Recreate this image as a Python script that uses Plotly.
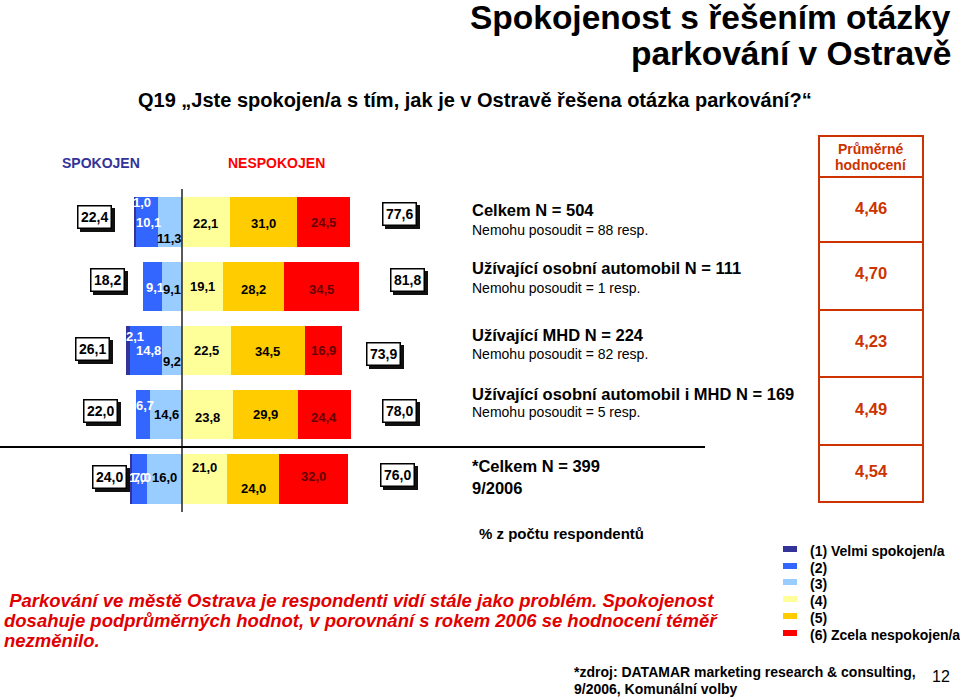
import plotly.graph_objects as go
import numpy as np

# ---------------- data ----------------
groups = ["Celkem N = 504", "Užívající osobní automobil N = 111", "Užívající MHD N = 224",
          "Užívající osobní automobil i MHD N = 169", "*Celkem N = 399"]
subtexts = ["Nemohu posoudit = 88 resp.", "Nemohu posoudit = 1 resp.", "Nemohu posoudit = 82 resp.",
            "Nemohu posoudit = 5 resp.", "9/2006"]
cat_names = ["(1) Velmi spokojen/a", "(2)", "(3)", "(4)", "(5)", "(6) Zcela nespokojen/a"]
v1 = [1.0, 0.0, 2.1, 0.0, 1.0]
v2 = [10.1, 9.1, 14.8, 6.7, 7.0]
v3 = [11.3, 9.1, 9.2, 14.6, 16.0]
v4 = [22.1, 19.1, 22.5, 23.8, 21.0]
v5 = [31.0, 28.2, 34.5, 29.9, 24.0]
v6 = [24.5, 34.5, 16.9, 24.4, 32.0]
spokojen_tot = [22.4, 18.2, 26.1, 22.0, 24.0]
nespokojen_tot = [77.6, 81.8, 73.9, 78.0, 76.0]
mean_scores = ["4,46", "4,70", "4,23", "4,49", "4,54"]
title_lines = ["Spokojenost s řešením otázky", "parkování v Ostravě"]
question = "Q19 „Jste spokojen/a s tím, jak je v Ostravě řešena otázka parkování?“"
conclusion = [" Parkování ve městě Ostrava je respondenti vidí stále jako problém. Spokojenost",
              "dosahuje podprůměrných hodnot, v porovnání s rokem 2006 se hodnocení téměř",
              "nezměnilo."]
source = ["*zdroj: DATAMAR marketing research & consulting,", "9/2006, Komunální volby"]

# ---------------- style ----------------
W, H = 960, 697
ZERO_PX = 182.0
PX_PER_PCT = 2.16
ROW0_PX = 222.0
ROW_STEP = 64.25
colors = ["#333399", "#3366FF", "#99CCFF", "#FFFF99", "#FFCC00", "#FF0000"]
label_colors = ["white", "white", "black", "black", "black", "#660000"]
SANS = "Liberation Sans, Arial, sans-serif"
BROWN = "#CC3300"


def X(px):
    return px / W


def Y(py):
    return 1 - py / H


def ptext(x, y, text, size, color="black", xanchor="center", bold=True, italic=False):
    t = text
    if italic:
        t = f"<i>{t}</i>"
    if bold:
        t = f"<b>{t}</b>"
    return dict(x=X(x), y=Y(y), xref="paper", yref="paper", xanchor=xanchor, yanchor="middle",
                text=t, showarrow=False, font=dict(family=SANS, size=size, color=color))


# label vertical offsets (px, positive = down) per row, per category
lab_dy = [[-20, 0, 16, 1, 1, 0],
          [0, 1, 3, 0, 3, 3],
          [-14, 0, 11, 0, 1, 0],
          [0, -9, 0, 3, 0, 3],
          [-2, -2, -2, -12, 9, -3]]
lab_dx = [7, 2, 0, 0, 0, 0]
left_box_dx = [-39, -35, -33, -35, -21]
right_box_dx = [50, 49, 42, 49, 49]
box_dy = [-5, -6, -2, -4, -2]
right_box_dy = [-8, -6, 3, -4, -4]

rows = list(range(len(groups)))
vals = np.array([v1, v2, v3, v4, v5, v6])

fig = go.Figure()
for k in [2, 1, 0]:
    fig.add_trace(go.Bar(y=rows, x=-vals[k], orientation="h",
                         marker=dict(color=colors[k], line=dict(width=0)),
                         width=0.763, showlegend=False, hoverinfo="skip"))
for k in [3, 4, 5]:
    fig.add_trace(go.Bar(y=rows, x=vals[k], orientation="h",
                         marker=dict(color=colors[k], line=dict(width=0)),
                         width=0.763, showlegend=False, hoverinfo="skip"))

annotations = []
shapes = []

for r in rows:
    neg_edges = [-(vals[0][r] + vals[1][r] + vals[2][r])]
    for k in range(3):
        neg_edges.append(neg_edges[-1] + vals[k][r])
    pos_edges = [0.0]
    for k in range(3, 6):
        pos_edges.append(pos_edges[-1] + vals[k][r])
    centers = [(neg_edges[k] + neg_edges[k + 1]) / 2 for k in range(3)] + \
              [(pos_edges[k] + pos_edges[k + 1]) / 2 for k in range(3)]
    for k in range(6):
        v = vals[k][r]
        if v <= 0:
            continue
        annotations.append(dict(x=centers[k], y=r, xref="x", yref="y", xanchor="center", yanchor="middle",
                                text=f"<b>{v:.1f}</b>".replace(".", ","),
                                showarrow=False, xshift=lab_dx[k], yshift=-lab_dy[r][k],
                                font=dict(family=SANS, size=13, color=label_colors[k])))
    left_end = neg_edges[0]
    right_end = pos_edges[-1]
    for (xv, dx, dy, txt) in [(left_end, left_box_dx[r], box_dy[r], spokojen_tot[r]),
                              (right_end, right_box_dx[r], right_box_dy[r], nespokojen_tot[r])]:
        t = f"<b>{txt:.1f}</b>".replace(".", ",")
        annotations.append(dict(x=xv, y=r, xref="x", yref="y", xanchor="center", yanchor="middle",
                                text=t, showarrow=False,
                                xshift=dx + 3, yshift=-dy - 3, bgcolor="#111111", bordercolor="#111111",
                                borderwidth=1.5, borderpad=2.5, font=dict(family=SANS, size=14, color="#111111")))
        annotations.append(dict(x=xv, y=r, xref="x", yref="y", xanchor="center", yanchor="middle",
                                text=t, showarrow=False,
                                xshift=dx, yshift=-dy, bgcolor="white", bordercolor="black",
                                borderwidth=1.5, borderpad=2.5, font=dict(family=SANS, size=14, color="black")))

# zero line
shapes.append(dict(type="line", xref="x", yref="paper", x0=0, x1=0, y0=Y(189), y1=Y(512),
                   line=dict(color="#222222", width=1.5)))
# separator between current results and 2006
shapes.append(dict(type="line", xref="paper", yref="y", x0=0, x1=X(705), y0=3.5, y1=3.5,
                   line=dict(color="black", width=2)))

# group texts
text_y = [(210, 230), (268, 288), (335, 354), (394, 412), (466, 488)]
for r in rows:
    annotations.append(ptext(470, text_y[r][0], groups[r], 16.5, xanchor="left"))
    if r == 4:
        annotations.append(ptext(470, text_y[r][1], subtexts[r], 16.5, xanchor="left"))
    else:
        annotations.append(ptext(470, text_y[r][1], subtexts[r], 14, xanchor="left", bold=False))

# mean score table
cell_edges = [136, 177, 242, 310, 377, 445, 502]
for i in range(len(cell_edges) - 1):
    shapes.append(dict(type="rect", xref="paper", yref="paper", x0=X(819), x1=X(923),
                       y0=Y(cell_edges[i]), y1=Y(cell_edges[i + 1]), line=dict(color=BROWN, width=2)))
annotations.append(ptext(871, 149, "Průměrné", 14, BROWN))
annotations.append(ptext(871, 165, "hodnocení", 14, BROWN))
mean_y = [208, 273, 341, 409, 471]
for r in rows:
    annotations.append(ptext(871, mean_y[r], mean_scores[r], 16.5, BROWN))

# titles
annotations.append(ptext(953, 17, title_lines[0], 33.5, xanchor="right"))
annotations.append(ptext(953, 53, title_lines[1], 33.5, xanchor="right"))
annotations.append(ptext(475, 100, question, 20))
annotations.append(ptext(101, 163, "SPOKOJEN", 14, "#333399"))
annotations.append(ptext(276, 163, "NESPOKOJEN", 14, "#FF0000"))
annotations.append(ptext(561, 533, "% z počtu respondentů", 15))

# legend
leg_y = [551, 568, 584, 601, 618, 635]
for k in range(6):
    shapes.append(dict(type="rect", xref="paper", yref="paper", x0=X(783), x1=X(797),
                       y0=Y(leg_y[k] - 5), y1=Y(leg_y[k] + 1), fillcolor=colors[k], line=dict(width=0)))
    annotations.append(ptext(808, leg_y[k], cat_names[k], 14, xanchor="left"))

# conclusion text
concl_y = [600, 620, 640]
for i, line in enumerate(conclusion):
    annotations.append(ptext(2, concl_y[i], line, 18.5, "#E00000", xanchor="left", italic=True))

# footer
annotations.append(ptext(572, 672, source[0], 14, xanchor="left"))
annotations.append(ptext(572, 689, source[1], 14, xanchor="left"))
annotations.append(ptext(941, 676, "12", 16, bold=False))

x_lo = -ZERO_PX / PX_PER_PCT
x_hi = (W - ZERO_PX) / PX_PER_PCT
y_top = -ROW0_PX / ROW_STEP
y_bot = (H - ROW0_PX) / ROW_STEP

fig.update_layout(
    width=W, height=H, margin=dict(l=0, r=0, t=0, b=0),
    paper_bgcolor="white", plot_bgcolor="white",
    barmode="relative", bargap=0,
    xaxis=dict(range=[x_lo, x_hi], visible=False, fixedrange=True),
    yaxis=dict(range=[y_bot, y_top], visible=False, fixedrange=True),
    annotations=annotations, shapes=shapes, showlegend=False,
)
fig.write_html("out.html")
